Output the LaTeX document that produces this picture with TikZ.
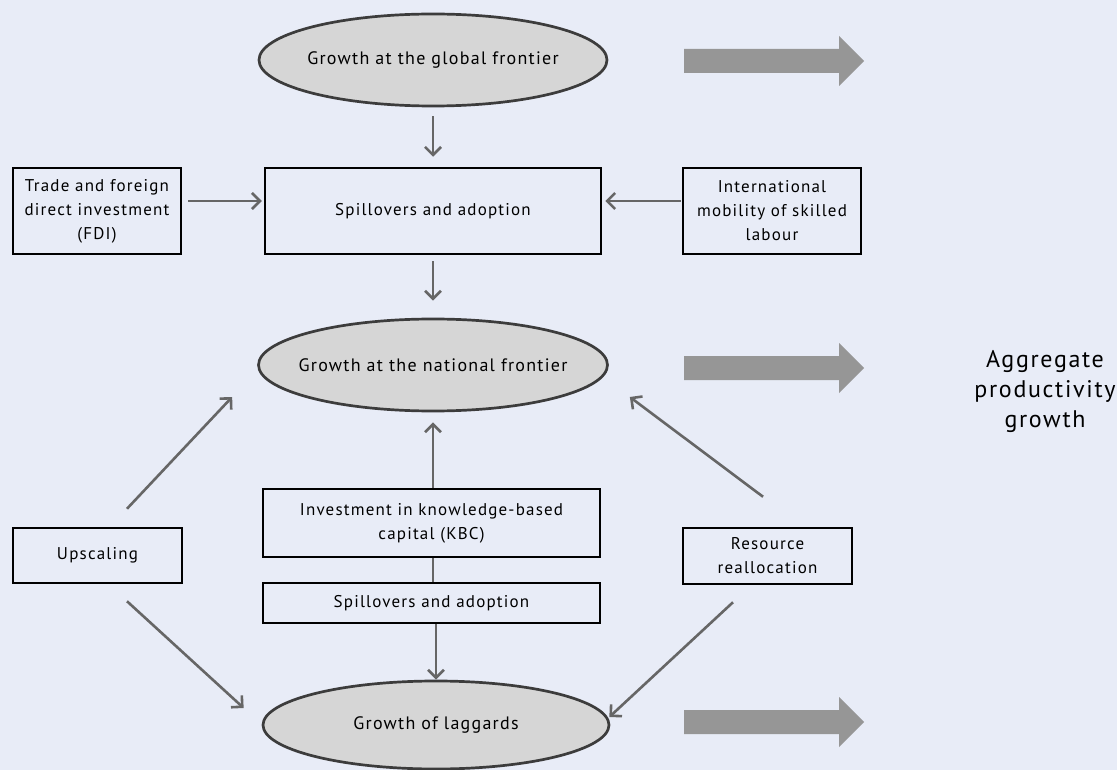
\documentclass[tikz,border=0pt]{standalone}
\usepackage{fontspec}
\setmainfont{PT Sans}[LetterSpace=7]
\usetikzlibrary{arrows.meta,shapes.geometric,calc}
\definecolor{bg}{RGB}{232,236,247}
\definecolor{ovalfill}{RGB}{214,214,214}
\definecolor{ovalline}{RGB}{60,60,60}
\definecolor{arrowgray}{RGB}{102,102,102}
\definecolor{blockgray}{RGB}{150,150,150}
\begin{document}
\begin{tikzpicture}[x=1pt,y=-1pt,
  oval/.style={ellipse, draw=ovalline, fill=ovalfill, line width=2.7pt,
    inner xsep=-30pt, inner ysep=0pt,
    font=\fontsize{18}{20}\selectfont},
  box/.style={rectangle, draw=black, line width=2.5pt, inner sep=0pt, align=center,
    font=\fontsize{17}{24}\selectfont},
  conn/.style={draw=arrowgray, line width=2.6pt, -{Straight Barb[length=8pt,width=16pt]}},
  plain/.style={draw=arrowgray, line width=2.6pt},
  bigarrow/.style={fill=blockgray}]
\fill[bg] (0,0) rectangle (1117,770);
\useasboundingbox (0,0) rectangle (1117,770);

% nodes
\node[oval, minimum width=348pt, minimum height=92pt] (glob) at (433,60) {Growth at the global frontier};
\node[box, minimum width=336pt, minimum height=86pt] (spill1) at (433,211) {Spillovers and adoption};
\node[box, minimum width=168pt, minimum height=86pt] (trade) at (97,211) {Trade and foreign\\direct investment\\(FDI)};
\node[box, minimum width=178pt, minimum height=86pt] (intl) at (772,211) {International\\mobility of skilled\\labour};
\node[oval, minimum width=349pt, minimum height=92pt] (nat) at (433,365) {Growth at the national frontier};
\node[box, minimum width=169pt, minimum height=55pt] (upsc) at (97.5,555.5) {Upscaling};
\node[box, minimum width=337pt, minimum height=68pt] (invest) at (431.5,523) {Investment in knowledge-based\\capital (KBC)};
\node[box, minimum width=337pt, minimum height=40pt] (spill2) at (431.5,603) {Spillovers and adoption};
\node[box, minimum width=169pt, minimum height=56pt] (res) at (767.5,556) {Resource\\reallocation};
\node[oval, minimum width=346pt, minimum height=88pt] (lag) at (436,725) {Growth of laggards};
\node[align=center, font=\fontsize{24}{30}\selectfont] (agg) at (1045,392) {Aggregate\\productivity\\growth};

% block arrows
\foreach \yc in {61,368,722}{
  \fill[bigarrow] (684,\yc-12) -- (839,\yc-12) -- (839,\yc-25) -- (864,\yc)
     -- (839,\yc+25) -- (839,\yc+12) -- (684,\yc+12) -- cycle;
}

% connectors
\draw[conn] ($(glob.south)+(0,9)$) -- ($(glob.south |- spill1.north)+(0,-10)$);
\draw[conn] ($(trade.east)+(6,-10)$) -- ($(spill1.west)+(-2,-10)$);
\draw[conn] ($(intl.west)+(-1,-10)$) -- ($(spill1.east)+(3,-10)$);
\draw[conn] ($(spill1.south)+(0,6)$) -- ($(nat.north)+(0,-17)$);
\draw[conn] (invest.north -| nat.south) -- ($(nat.south)+(0,10)$);
\draw[plain] (invest.south -| nat.south) -- (spill2.north -| nat.south);
\draw[conn] (spill2.south -| lag.north) -- (lag.north);
\draw[conn] ($(upsc.north)+(29.5,-18)$) -- ($(nat.west)+(-25,32)$);
\draw[conn] ($(upsc.south)+(29.5,17)$) -- ($(lag.west)+(-18,-17)$);
\draw[conn] ($(res.north)+(-4.5,-30)$) -- ($(nat.east)+(21,32)$);
\draw[conn] ($(res.south)+(-34.5,17)$) -- ($(lag.east)+(-1,-8)$);
\end{tikzpicture}
\end{document}
